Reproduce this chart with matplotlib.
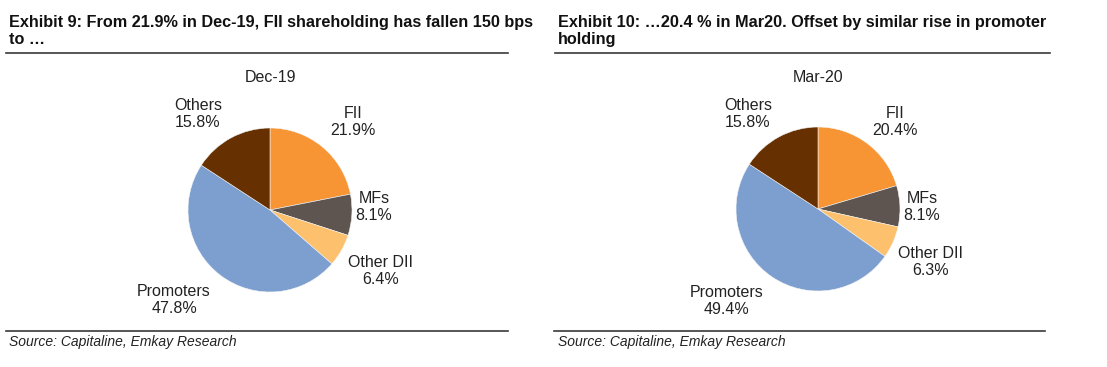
import matplotlib
matplotlib.use('Agg')
import matplotlib.pyplot as plt
from matplotlib.lines import Line2D

plt.rcParams['font.family'] = ['Liberation Sans', 'DejaVu Sans']

categories = ['FII', 'MFs', 'Other DII', 'Promoters', 'Others']
dec19 = [21.9, 8.1, 6.4, 47.8, 15.8]
mar20 = [20.4, 8.1, 6.3, 49.4, 15.8]
colors = ['#F79433', '#5E5550', '#FDC06C', '#7D9FCF', '#673000']

W, H = 1107, 367
fig = plt.figure(figsize=(W / 100, H / 100), dpi=100)


def fx(px):
    return px / W


def fy(py):
    return 1 - py / H


def hline(x0, x1, y):
    fig.add_artist(Line2D([fx(x0), fx(x1)], [fy(y), fy(y)], color='#3a3a3a', lw=1.2))


def draw_pie(values, cx, cy, r, title, label_pos):
    ax = fig.add_axes([fx(cx - r), fy(cy + r), 2 * r / W, 2 * r / H])
    ax.pie(values, colors=colors, startangle=90, counterclock=False,
           wedgeprops=dict(edgecolor='#f4f4f4', linewidth=0.4))
    ax.set_xlim(-1, 1)
    ax.set_ylim(-1, 1)
    ax.set_aspect('equal')
    ax.axis('off')
    fig.text(fx(cx), fy(78), title, ha='center', va='center', fontsize=11.5, color='#222222')
    for name, v, (px, py) in zip(categories, values, label_pos):
        fig.text(fx(px), fy(py), f'{name}\n{v:.1f}%', ha='center', va='center',
                 fontsize=11.5, color='#222222', linespacing=1.15)


# left exhibit
fig.text(fx(9), fy(31), 'Exhibit 9: From 21.9% in Dec-19, FII shareholding has fallen 150 bps\nto \u2026',
         ha='left', va='center', fontsize=11.7, fontweight='bold', color='#111111', linespacing=1.15)
hline(6, 508, 53)
draw_pie(dec19, 270, 210, 82, 'Dec-19',
         [(353, 122), (374, 207), (381, 271), (174, 300), (198, 114)])
hline(6, 508, 331)
fig.text(fx(9), fy(342), 'Source: Capitaline, Emkay Research', ha='left', va='center',
         fontsize=10, style='italic', color='#222222')

# right exhibit
fig.text(fx(558), fy(31), 'Exhibit 10: \u202620.4 % in Mar20. Offset by similar rise in promoter\nholding',
         ha='left', va='center', fontsize=11.7, fontweight='bold', color='#111111', linespacing=1.15)
hline(555, 1050, 53)
draw_pie(mar20, 818, 209, 82, 'Mar-20',
         [(895, 122), (922, 207), (931, 262), (727, 301), (748, 114)])
hline(554, 1045, 331)
fig.text(fx(558), fy(342), 'Source: Capitaline, Emkay Research', ha='left', va='center',
         fontsize=10, style='italic', color='#222222')

fig.savefig('out.png', dpi=100)
